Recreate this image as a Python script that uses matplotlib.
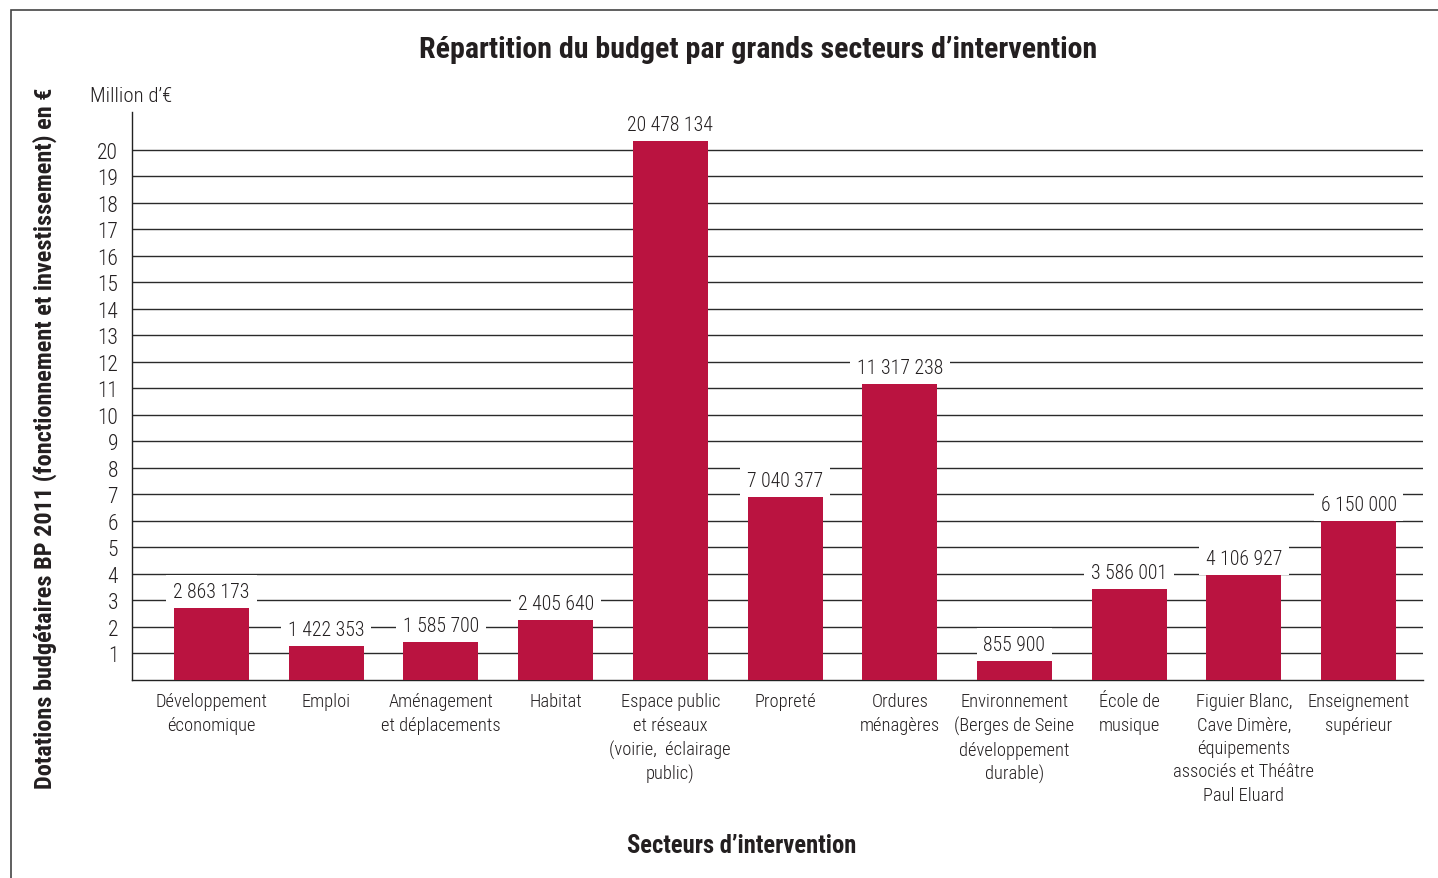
import matplotlib
matplotlib.use("Agg")
import matplotlib.pyplot as plt
from matplotlib.patches import Rectangle

plt.rcParams['font.family'] = ['Roboto Condensed', 'DejaVu Sans']

categories = [
    "Développement\néconomique",
    "Emploi",
    "Aménagement\net déplacements",
    "Habitat",
    "Espace public\net réseaux\n(voirie,  éclairage\npublic)",
    "Propreté",
    "Ordures\nménagères",
    "Environnement\n(Berges de Seine\ndéveloppement\ndurable)",
    "École de\nmusique",
    "Figuier Blanc,\nCave Dimère,\néquipements\nassociés et Théâtre\nPaul Eluard",
    "Enseignement\nsupérieur",
]
values = [2863173, 1422353, 1585700, 2405640, 20478134, 7040377,
          11317238, 855900, 3586001, 4106927, 6150000]
value_labels = ["2 863 173", "1 422 353", "1 585 700", "2 405 640", "20 478 134",
                "7 040 377", "11 317 238", "855 900", "3 586 001", "4 106 927", "6 150 000"]
yticks = list(range(1, 21))

W, H = 1438, 879
TXT = "#231f20"
fig = plt.figure(figsize=(W / 100, H / 100), dpi=100)
ax = fig.add_axes([132 / W, 1 - 681 / H, (1423 - 132) / W, (681 - 113) / H])

x = list(range(len(values)))
vals_m = [v / 1e6 for v in values]
ax.bar(x, vals_m, width=0.654, color="#BA1340", zorder=3)

for yv in yticks:
    ax.axhline(yv, color="#2a2a2a", lw=1.0, zorder=1)

for xi, v, lab in zip(x, vals_m, value_labels):
    ax.text(xi, v + 0.12, lab, ha="center", va="bottom", fontsize=14.2, color=TXT,
            fontweight="light", zorder=4,
            bbox=dict(facecolor="white", edgecolor="none", pad=5))

ax.set_xlim(-0.693, 10.562)
ax.set_ylim(0, 21.43)
ax.set_yticks(yticks)
ax.set_yticklabels([str(t) for t in yticks], fontsize=15.5, color=TXT, fontweight="light")
ax.tick_params(axis="y", length=0, pad=10)
ax.set_xticks(x)
ax.set_xticklabels(categories, fontsize=13.3, color=TXT, linespacing=1.38, va="top",
                   fontweight="light")
ax.tick_params(axis="x", length=0, pad=9)

for s in ["top", "right"]:
    ax.spines[s].set_visible(False)
for s in ["left", "bottom"]:
    ax.spines[s].set_color("#222222")
    ax.spines[s].set_linewidth(1.0)

fig.text(758 / W, 1 - 50 / H, "Répartition du budget par grands secteurs d’intervention",
         ha="center", va="center", fontsize=21.6, fontweight="bold", color=TXT)
fig.text(90 / W, 1 - 96 / H, "Million d’€", ha="left", va="center", fontsize=15,
         color=TXT, fontweight="light")
fig.text(45 / W, 1 - 438 / H,
         "Dotations budgétaires BP 2011 (fonctionnement et investissement) en €",
         ha="center", va="center", rotation=90, fontsize=17.5, fontweight="bold", color=TXT)
fig.text(742 / W, 1 - 846 / H, "Secteurs d’intervention", ha="center", va="center",
         fontsize=17.7, fontweight="bold", color=TXT)

fig.patches.append(Rectangle((11 / W, -0.1), 1.2, 1 - 11 / H + 0.1, transform=fig.transFigure,
                             fill=False, edgecolor="#444444", lw=1.2))

fig.savefig("out.png", dpi=100)
